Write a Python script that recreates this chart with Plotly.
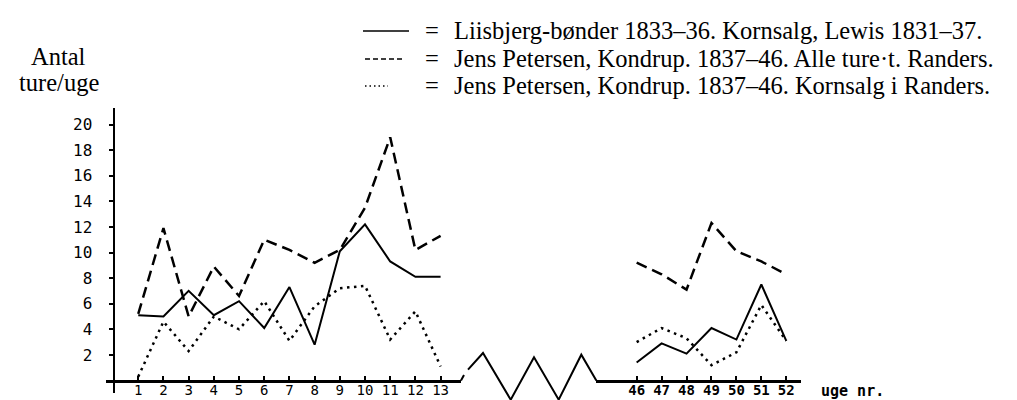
import plotly.graph_objects as go

# ---------------- data ----------------
weeks_early = list(range(1, 14))
weeks_late = list(range(46, 53))

liisbjerg_early = [5.1, 5.0, 7.0, 5.1, 6.2, 4.1, 7.3, 2.8, 10.1, 12.2, 9.3, 8.1, 8.1]
liisbjerg_late = [1.4, 2.9, 2.1, 4.1, 3.2, 7.5, 3.1]

alle_early = [5.2, 11.9, 5.0, 8.9, 6.6, 11.0, 10.2, 9.2, 10.2, 13.5, 19.0, 10.2, 11.3]
alle_late = [9.2, 8.3, 7.1, 12.3, 10.1, 9.3, 8.3]

korn_early = [0.3, 4.6, 2.3, 5.0, 4.0, 6.2, 3.1, 5.8, 7.2, 7.4, 3.2, 5.4, 1.1]
korn_late = [3.0, 4.1, 3.3, 1.2, 2.2, 5.9, 3.1]

y_ticks = [2, 4, 6, 8, 10, 12, 14, 16, 18, 20]
x_labels_early = [str(w) for w in weeks_early]
x_labels_late = [str(w) for w in weeks_late]

legend_texts = [
    "Liisbjerg-bønder 1833–36. Kornsalg, Lewis 1831–37.",
    "Jens Petersen, Kondrup. 1837–46. Alle ture·t. Randers.",
    "Jens Petersen, Kondrup. 1837–46. Kornsalg i Randers.",
]
y_title_lines = ["Antal", "ture/uge"]
x_title = "uge nr."

# ---------------- layout helpers ----------------
W, H = 1017, 400


def fx(px):
    return px / W


def fy(py):
    return 1 - py / H


serif = "Liberation Serif"
mono = "DejaVu Sans Mono"
txt_size = 24.5

styles = [
    dict(color="black", width=2),
    dict(color="black", width=2.5, dash="11px,6px"),
    dict(color="black", width=2.5, dash="2.5px,4.5px"),
]

fig = go.Figure()
series = [
    (liisbjerg_early, liisbjerg_late, legend_texts[0]),
    (alle_early, alle_late, legend_texts[1]),
    (korn_early, korn_late, legend_texts[2]),
]
for (early, late, name), st in zip(series, styles):
    fig.add_trace(go.Scatter(x=weeks_early, y=early, mode="lines", line=st,
                             name=name, xaxis="x", yaxis="y", showlegend=False))
    fig.add_trace(go.Scatter(x=weeks_late, y=late, mode="lines", line=st,
                             name=name, xaxis="x2", yaxis="y", showlegend=False))

axis_y_px = 372.5
common_x = dict(
    anchor="free", position=fy(axis_y_px), showline=True, linewidth=3,
    linecolor="black", ticks="inside", ticklen=4, tickwidth=2,
    tickcolor="black", showgrid=False, zeroline=False,
    ticklabelstandoff=-4,
)

fig.update_layout(
    width=W, height=H,
    margin=dict(l=0, r=0, t=0, b=0),
    paper_bgcolor="white", plot_bgcolor="white",
    showlegend=False,
    font=dict(family=serif, color="black"),
    xaxis=dict(domain=[fx(98), fx(453)], range=[-0.28, 13.81],
               tickvals=weeks_early, ticktext=x_labels_early,
               tickfont=dict(family=mono, size=14, color="black"), **common_x),
    xaxis2=dict(domain=[fx(588), fx(793)], range=[44.37, 52.59],
                tickvals=weeks_late, ticktext=x_labels_late,
                tickfont=dict(family=mono, size=14, color="black", weight="bold"),
                **common_x),
    yaxis=dict(domain=[fy(385), fy(100)], range=[-0.977, 21.29],
               anchor="free", position=fx(105.5),
               showline=True, linewidth=2, linecolor="black",
               tickvals=y_ticks, ticks="outside", ticklen=4, tickwidth=2,
               tickcolor="black", showgrid=False, zeroline=False,
               tickfont=dict(family=mono, size=16, color="black"),
               ticklabelstandoff=13),
)

# axis-break zigzag (decorative)
zig = [(453, 372.5), (456, 367), None, (460, 361.7), (475, 345), (502.7, 391.7),
       (526, 349.3), (550.7, 391.7), (573.3, 346.7), (588.3, 372.5)]
path = ""
pen_up = True
for p in zig:
    if p is None:
        pen_up = True
        continue
    path += ("M" if pen_up else "L") + f"{fx(p[0]):.5f},{fy(p[1]):.5f} "
    pen_up = False
fig.add_shape(type="path", path=path.strip(), xref="paper", yref="paper",
              line=dict(color="black", width=2))

# custom legend
legend_rows = [22, 50, 77]
legend_symbols = [
    (355, 401, dict(color="black", width=1.5)),
    (357, 395, dict(color="black", width=1.5, dash="5px,3px")),
    (357, 380, dict(color="black", width=1.5, dash="1.5px,3px")),
]
for row_y, (x0, x1, ln), txt in zip(legend_rows, legend_symbols, legend_texts):
    fig.add_shape(type="line", xref="paper", yref="paper",
                  x0=fx(x0), x1=fx(x1), y0=fy(row_y + 1), y1=fy(row_y + 1), line=ln)
    fig.add_annotation(x=fx(415), y=fy(row_y), xref="paper", yref="paper",
                       text="=", showarrow=False, xanchor="left", yanchor="middle",
                       font=dict(family=serif, size=txt_size, color="black"))
    fig.add_annotation(x=fx(444), y=fy(row_y), xref="paper", yref="paper",
                       text=txt, showarrow=False, xanchor="left", yanchor="middle",
                       font=dict(family=serif, size=txt_size, color="black"))

# y title
for txt, yy, xx in zip(y_title_lines, [48, 74], [50, 51]):
    fig.add_annotation(x=fx(xx), y=fy(yy), xref="paper", yref="paper", text=txt,
                       showarrow=False, xanchor="center", yanchor="middle",
                       font=dict(family=serif, size=txt_size, color="black"))

# x title
fig.add_annotation(x=fx(811), y=fy(383), xref="paper", yref="paper", text=x_title,
                   showarrow=False, xanchor="left", yanchor="middle",
                   font=dict(family=mono, size=15, color="black", weight="bold"))

fig.write_html("out.html")
